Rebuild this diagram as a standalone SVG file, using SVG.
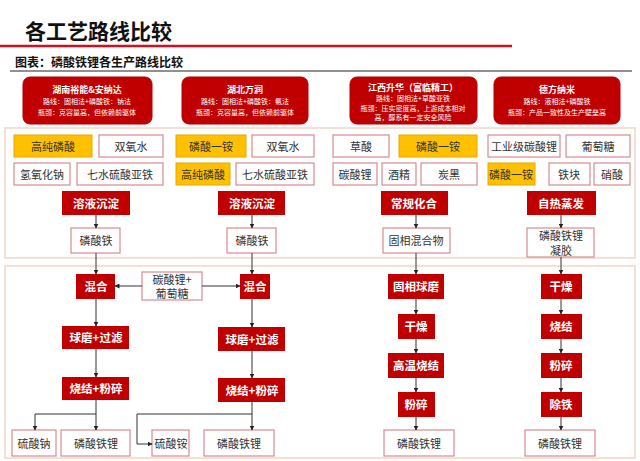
<svg xmlns="http://www.w3.org/2000/svg" width="640" height="461" viewBox="0 0 640 461">
<defs>
<marker id="ar" viewBox="0 0 10 10" refX="9" refY="5" markerWidth="5" markerHeight="5" orient="auto"><path d="M0,0L10,5L0,10z" fill="#222"/></marker>
<style>
text{font-family:"Noto Sans CJK SC","Noto Sans",sans-serif;text-anchor:middle;dominant-baseline:central}
.hd rect{fill:#c00000;stroke:#b00000}
.hd text{fill:#fff;stroke:none}
.w rect{fill:#fff;stroke:#d88a90;stroke-width:1.2}
.w text{fill:#333;font-size:11px}
.o rect{fill:#ffc000;stroke:#e6a800;stroke-width:1}
.o text{fill:#333;font-size:11px}
.r rect{fill:#c00000}
.r text{fill:#fff;font-size:11.5px;font-weight:bold}
.pn{fill:#fff;stroke:#f2d6c8;stroke-width:1.5}
.c line,.c path{stroke:#333;stroke-width:1;fill:none;marker-end:url(#ar)}
</style>
</defs>
<rect width="640" height="461" fill="#fff"/>
<text x="25" y="30" style="text-anchor:start;font-size:21px;font-weight:bold" fill="#111">各工艺路线比较</text>
<line x1="0" y1="46" x2="512" y2="46" stroke="#d01020" stroke-width="2.5"/>
<text x="15" y="61" style="text-anchor:start;font-size:12px;font-weight:bold" fill="#111">图表：磷酸铁锂各生产路线比较</text>
<line x1="10" y1="71" x2="632" y2="71" stroke="#222" stroke-width="1.2"/>

<g id="h1" class="hd"><rect x="23" y="77" width="129" height="47" rx="7"/><text x="87" y="89" font-size="9" font-weight="bold">湖南裕能&amp;安纳达</text><text x="87" y="101" font-size="7">路线：固相法+磷酸铁：钠法</text><text x="87" y="112" font-size="7">瓶颈：克容量高，但依赖前驱体</text></g>
<g id="h2" class="hd"><rect x="182" y="77" width="126" height="47" rx="7"/><text x="245" y="89" font-size="9" font-weight="bold">湖北万润</text><text x="245" y="101" font-size="7">路线：固相法+磷酸铁：氨法</text><text x="245" y="112" font-size="7">瓶颈：克容量高，但依赖前驱体</text></g>
<g id="h3" class="hd"><rect x="350" y="77" width="127" height="47" rx="7"/><text x="413" y="87" font-size="9" font-weight="bold">江西升华（富临精工）</text><text x="413" y="98" font-size="7">路线：固相法+草酸亚铁</text><text x="413" y="108" font-size="7">瓶颈：压实密度高，上游成本相对</text><text x="413" y="117" font-size="7">高，醇系有一定安全风险</text></g>
<g id="h4" class="hd"><rect x="494" y="77" width="126" height="47" rx="7"/><text x="557" y="89" font-size="9" font-weight="bold">德方纳米</text><text x="557" y="101" font-size="7">路线：液相法+磷酸铁</text><text x="557" y="112" font-size="7">瓶颈：产品一致性及生产壁垒高</text></g>

<rect class="pn" x="5" y="128" width="630" height="130"/>
<rect class="pn" x="5" y="266" width="630" height="192"/>

<g id="n1a" class="o"><rect x="14" y="135" width="78" height="22"/><text x="53" y="146">高纯磷酸</text></g>
<g id="n1b" class="w"><rect x="99" y="135" width="64" height="22"/><text x="131" y="146">双氧水</text></g>
<g id="n1c" class="w"><rect x="14" y="163" width="56" height="22"/><text x="42" y="174">氢氧化钠</text></g>
<g id="n1d" class="w"><rect x="77" y="163" width="86" height="22"/><text x="120" y="174">七水硫酸亚铁</text></g>
<g id="n1e" class="r"><rect x="62" y="191" width="68" height="24"/><text x="96" y="203">溶液沉淀</text></g>
<g id="n1f" class="w"><rect x="71" y="228" width="49" height="25"/><text x="96" y="240">磷酸铁</text></g>

<g id="n2a" class="o"><rect x="176" y="135" width="70" height="22"/><text x="211" y="146">磷酸一铵</text></g>
<g id="n2b" class="w"><rect x="252" y="135" width="62" height="22"/><text x="283" y="146">双氧水</text></g>
<g id="n2c" class="o"><rect x="176" y="163" width="54" height="22"/><text x="203" y="174">高纯磷酸</text></g>
<g id="n2d" class="w"><rect x="236" y="163" width="78" height="22"/><text x="275" y="174">七水硫酸亚铁</text></g>
<g id="n2e" class="r"><rect x="218" y="191" width="67" height="24"/><text x="252" y="203">溶液沉淀</text></g>
<g id="n2f" class="w"><rect x="227" y="228" width="49" height="25"/><text x="252" y="240">磷酸铁</text></g>

<g id="n3a" class="w"><rect x="333" y="135" width="56" height="22"/><text x="361" y="146">草酸</text></g>
<g id="n3b" class="o"><rect x="399" y="135" width="78" height="22"/><text x="438" y="146">磷酸一铵</text></g>
<g id="n3c" class="w"><rect x="333" y="163" width="44" height="22"/><text x="355" y="174">碳酸锂</text></g>
<g id="n3d" class="w"><rect x="382" y="163" width="34" height="22"/><text x="399" y="174">酒精</text></g>
<g id="n3e" class="w"><rect x="421" y="163" width="56" height="22"/><text x="449" y="174">炭黑</text></g>
<g id="n3f" class="r"><rect x="381" y="191" width="67" height="24"/><text x="414" y="203">常规化合</text></g>
<g id="n3g" class="w"><rect x="383" y="228" width="67" height="25"/><text x="416" y="240">固相混合物</text></g>

<g id="n4a" class="w"><rect x="488" y="135" width="72" height="22"/><text x="524" y="146">工业级碳酸锂</text></g>
<g id="n4b" class="w"><rect x="566" y="135" width="64" height="22"/><text x="598" y="146">葡萄糖</text></g>
<g id="n4c" class="o"><rect x="488" y="163" width="47" height="22"/><text x="511" y="174">磷酸一铵</text></g>
<g id="n4d" class="w"><rect x="549" y="163" width="41" height="22"/><text x="569" y="174">铁块</text></g>
<g id="n4e" class="w"><rect x="594" y="163" width="36" height="22"/><text x="612" y="174">硝酸</text></g>
<g id="n4f" class="r"><rect x="527" y="191" width="69" height="24"/><text x="561" y="203">自热蒸发</text></g>
<g id="n4g" class="w"><rect x="527" y="228" width="67" height="29"/><text x="561" y="235" font-size="10">磷酸铁锂</text><text x="561" y="250" font-size="10">凝胶</text></g>

<g id="m1" class="r"><rect x="76" y="274" width="39" height="25"/><text x="96" y="286">混合</text></g>
<g id="m0" class="w"><rect x="142" y="272" width="60" height="28"/><text x="172" y="279" font-size="9.5">碳酸锂+</text><text x="172" y="293" font-size="9.5">葡萄糖</text></g>
<g id="m2" class="r"><rect x="240" y="274" width="30" height="25"/><text x="255" y="286">混合</text></g>
<g id="b1a" class="r"><rect x="62" y="326" width="67" height="23"/><text x="96" y="337">球磨+过滤</text></g>
<g id="b2a" class="r"><rect x="218" y="327" width="67" height="24"/><text x="252" y="339">球磨+过滤</text></g>
<g id="b1b" class="r"><rect x="62" y="377" width="67" height="23"/><text x="96" y="388">烧结+粉碎</text></g>
<g id="b2b" class="r"><rect x="218" y="378" width="67" height="24"/><text x="252" y="390">烧结+粉碎</text></g>
<g id="o1a" class="w"><rect x="12" y="430" width="44" height="26"/><text x="34" y="443">硫酸钠</text></g>
<g id="o1b" class="w"><rect x="61" y="430" width="69" height="26"/><text x="96" y="443">磷酸铁锂</text></g>
<g id="o2a" class="w"><rect x="152" y="430" width="37" height="26"/><text x="171" y="443">硫酸铵</text></g>
<g id="o2b" class="w"><rect x="204" y="430" width="70" height="26"/><text x="239" y="443">磷酸铁锂</text></g>

<g id="c3a" class="r"><rect x="388" y="274" width="56" height="25"/><text x="416" y="286">固相球磨</text></g>
<g id="c3b" class="r"><rect x="398" y="314" width="37" height="25"/><text x="416" y="326">干燥</text></g>
<g id="c3c" class="r"><rect x="388" y="353" width="56" height="25"/><text x="416" y="365">高温烧结</text></g>
<g id="c3d" class="r"><rect x="398" y="392" width="37" height="25"/><text x="416" y="404">粉碎</text></g>
<g id="c3e" class="w"><rect x="384" y="430" width="70" height="26"/><text x="419" y="443">磷酸铁锂</text></g>
<g id="c4a" class="r"><rect x="541" y="274" width="41" height="25"/><text x="561" y="286">干燥</text></g>
<g id="c4b" class="r"><rect x="541" y="314" width="41" height="25"/><text x="561" y="326">烧结</text></g>
<g id="c4c" class="r"><rect x="541" y="353" width="41" height="25"/><text x="561" y="365">粉碎</text></g>
<g id="c4d" class="r"><rect x="541" y="392" width="41" height="25"/><text x="561" y="404">除铁</text></g>
<g id="c4e" class="w"><rect x="525" y="430" width="70" height="26"/><text x="560" y="443">磷酸铁锂</text></g>

<g id="connectors" class="c">
<line x1="96" y1="215" x2="96" y2="228"/><line x1="96" y1="253" x2="96" y2="274"/>
<line x1="252" y1="215" x2="252" y2="228"/><line x1="252" y1="253" x2="252" y2="274"/>
<line x1="416" y1="215" x2="416" y2="228"/><line x1="416" y1="253" x2="416" y2="274"/>
<line x1="561" y1="215" x2="561" y2="228"/><line x1="561" y1="257" x2="561" y2="274"/>
<line x1="142" y1="286" x2="115" y2="286"/><line x1="202" y1="286" x2="240" y2="286"/>
<line x1="96" y1="299" x2="96" y2="326"/><line x1="96" y1="349" x2="96" y2="377"/>
<line x1="252" y1="299" x2="252" y2="327"/><line x1="252" y1="351" x2="252" y2="378"/>
<path d="M96,400V430"/><path d="M96,414H35V430"/>
<path d="M252,402V430"/><path d="M252,414H137V444H152"/>
<line x1="416" y1="299" x2="416" y2="314"/><line x1="416" y1="339" x2="416" y2="353"/><line x1="416" y1="378" x2="416" y2="392"/><line x1="416" y1="417" x2="416" y2="430"/>
<line x1="561" y1="299" x2="561" y2="314"/><line x1="561" y1="339" x2="561" y2="353"/><line x1="561" y1="378" x2="561" y2="392"/><line x1="561" y1="417" x2="561" y2="430"/>
</g>
</svg>
